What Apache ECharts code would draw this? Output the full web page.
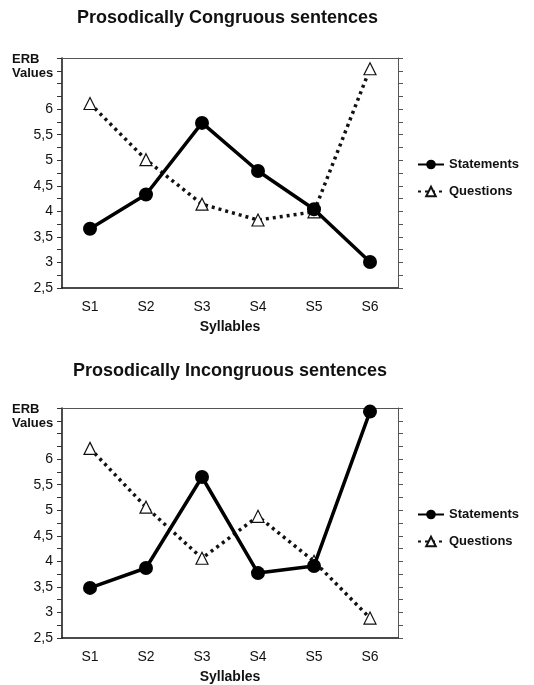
<!DOCTYPE html>
<html><head><meta charset="utf-8">
<script src="https://cdn.jsdelivr.net/npm/echarts@6/dist/echarts.min.js"></script>
<style>html,body{margin:0;padding:0;background:#fff}#c{width:534px;height:685px}</style>
</head><body><div id="c"></div>
<script>
const categories = ['S1','S2','S3','S4','S5','S6'];
const congruousStatements = [3.66, 4.33, 5.73, 4.79, 4.04, 3.01];
const congruousQuestions  = [6.11, 5.01, 4.14, 3.83, 3.99, 6.79];
const incongruousStatements = [3.48, 3.87, 5.65, 3.77, 3.91, 6.93];
const incongruousQuestions  = [6.21, 5.06, 4.06, 4.88, 4.00, 2.89];
const yMin = 2.5, yMax = 7, yStep = 0.5;
const titles = ['Prosodically Congruous sentences', 'Prosodically Incongruous sentences'];

const chart = echarts.init(document.getElementById('c'));
const FONT = 'Liberation Sans, Arial, sans-serif';
const grids = [{left:62, top:58, width:336, height:230}, {left:62, top:408, width:336, height:230}];

const xAxes = [], yAxes = [], series = [], titleArr = [], legends = [];
grids.forEach((g, i) => {
  xAxes.push({type:'category', gridIndex:i, data:categories, boundaryGap:true,
    axisLine:{lineStyle:{color:'#111', width:1.5}},
    axisTick:{alignWithLabel:true, length:4, lineStyle:{color:'#333'}},
    axisLabel:{color:'#111', fontFamily:FONT, fontSize:14, margin:12},
    name:'Syllables', nameLocation:'middle', nameGap:32,
    nameTextStyle:{fontFamily:FONT, fontWeight:'bold', fontSize:14, color:'#111'}});
  xAxes.push({type:'category', gridIndex:i, data:categories, position:'top', boundaryGap:true,
    axisLine:{lineStyle:{color:'#555', width:1}},
    axisTick:{alignWithLabel:true, inside:true, length:4, lineStyle:{color:'#555'}},
    axisLabel:{show:false}});
  yAxes.push({type:'value', gridIndex:i, min:yMin, max:yMax, interval:yStep,
    axisLine:{show:true, lineStyle:{color:'#111', width:1.5}},
    axisTick:{show:true, length:5, lineStyle:{color:'#333'}},
    minorTick:{show:true, splitNumber:2, length:5, lineStyle:{color:'#333'}},
    splitLine:{show:false},
    axisLabel:{color:'#111', fontFamily:FONT, fontSize:14, margin:9,
      formatter: v => v > 6 ? '' : String(v).replace('.', ',')}});
  yAxes.push({type:'value', gridIndex:i, min:yMin, max:yMax, interval:yStep, position:'right',
    axisLine:{show:true, lineStyle:{color:'#555', width:1}},
    axisTick:{show:true, length:5, lineStyle:{color:'#555'}},
    minorTick:{show:true, splitNumber:2, length:5, lineStyle:{color:'#555'}},
    splitLine:{show:false}, axisLabel:{show:false}});
  const st = i === 0 ? congruousStatements : incongruousStatements;
  const qu = i === 0 ? congruousQuestions : incongruousQuestions;
  series.push({name:'Questions', type:'line', xAxisIndex:2*i, yAxisIndex:2*i, data:qu,
    symbol:'triangle', symbolSize:12, showAllSymbol:true,
    lineStyle:{color:'#111', width:3.5, type:[3,4]},
    itemStyle:{color:'#fff', borderColor:'#111', borderWidth:1.2}, z:2});
  series.push({name:'Statements', type:'line', xAxisIndex:2*i, yAxisIndex:2*i, data:st,
    symbol:'circle', symbolSize:14,
    lineStyle:{color:'#000', width:3.5},
    itemStyle:{color:'#000', borderColor:'#000', borderWidth:0}, z:3});
  titleArr.push({text:titles[i], left: i === 0 ? 77 : 73, top: i === 0 ? 9 : 362, padding:0,
    textStyle:{fontFamily:FONT, fontSize:18, fontWeight:'bold', color:'#111'}});
  titleArr.push({text:'ERB\nValues', left:12, top: g.top - 6, padding:0,
    textStyle:{fontFamily:FONT, fontSize:13, fontWeight:'bold', color:'#111', lineHeight:14}});
  legends.push({data:['Statements','Questions'], orient:'vertical', left:412, top: g.top + 95,
    itemWidth:26, itemHeight:12, itemGap:14, selectedMode:false,
    textStyle:{fontFamily:FONT, fontSize:13, fontWeight:'bold', color:'#111'}});
});

chart.setOption({
  animation:false,
  title:titleArr,
  legend:legends,
  grid:grids,
  xAxis:xAxes,
  yAxis:yAxes,
  series:series
});
</script></body></html>
